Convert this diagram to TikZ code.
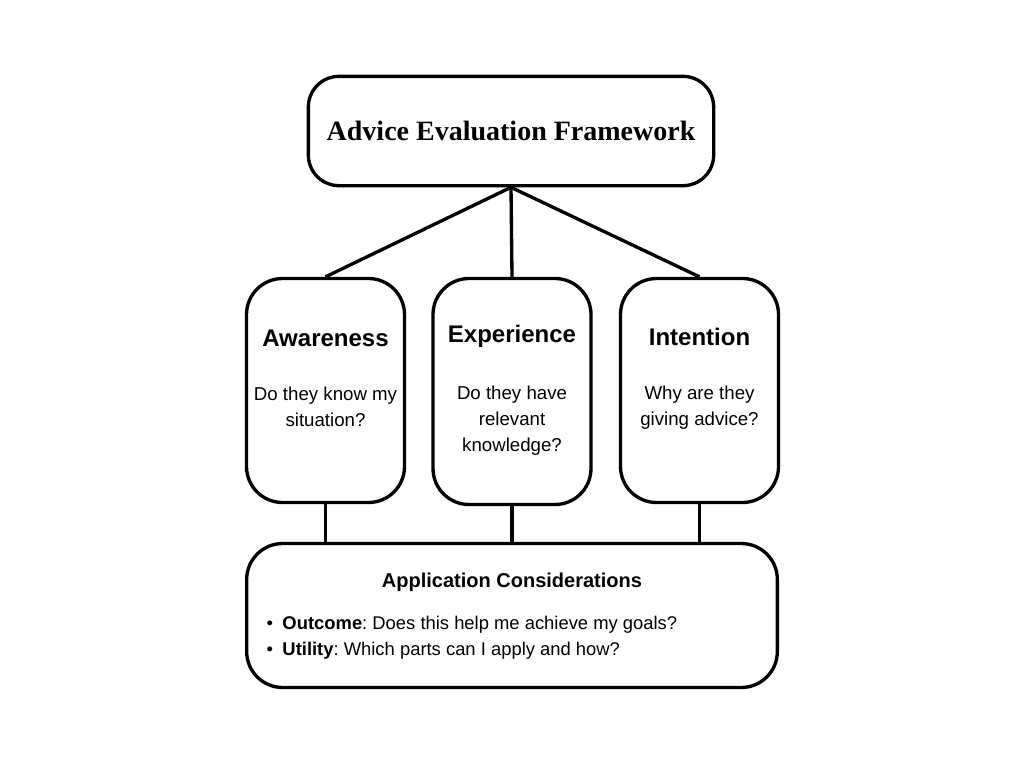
\documentclass[tikz,border=0pt]{standalone}
\usepackage{fontspec}
\setmainfont{Liberation Sans}
\newfontfamily\titlefont{Liberation Serif}
\usetikzlibrary{positioning}
\frenchspacing

\begin{document}
\begin{tikzpicture}[x=0.75pt,y=-0.75pt]

    \tikzset{
      frame/.style={
        draw,
        line width=2.5pt,
        inner sep=0pt,
      },
      card/.style={
        frame,
        rounded corners=27pt,
        minimum width=118.5pt,
        minimum height=168pt,
      },
      link/.style={line width=2.5pt},
      head/.style={font=\bfseries\fontsize{18}{22}\selectfont},
      body/.style={align=center, font=\fontsize{14}{19.5}\selectfont},
    }
    \useasboundingbox (0,0) rectangle (1024,768);
	\node[frame, rounded corners=23pt, minimum width=304pt, minimum height=82pt] (top) at (511,131) {};
	\node[font=\titlefont\bfseries\fontsize{21}{25}\selectfont] (toptext) at (511,131) {Advice Evaluation Framework};

	\node[card] (aware) at (325.5,390.5) {};
	\node[card, minimum height=169.5pt] (exper) at (512,391.5) {};
	\node[card] (inten) at (699.5,390.5) {};
	\node[frame, rounded corners=27pt, minimum width=398pt, minimum height=108pt] (apply) at (512,615.5) {};

	\node[head] (awarehead) at (325.5,338) {Awareness};
	\node[head] (experhead) at (512,336.5) {Experience};
	\node[head] (intenhead) at (699.5,336.5) {Intention};
	\node[body, anchor=north] (awarebody) at (325.5,382) {Do they know my\\situation?};
	\node[body, anchor=north] (experbody) at (512,381) {Do they have\\relevant\\knowledge?};
	\node[body, anchor=north] (intenbody) at (699.5,381) {Why are they\\giving advice?};

	\node[font=\bfseries\fontsize{15}{18}\selectfont] (applyhead) at (512,582) {Application Considerations};
	\node[align=left, anchor=west, font=\fontsize{13.8}{19.5}\selectfont] (applylist) at (262,638)
	  {\textbullet\hspace{7pt}\textbf{Outcome}: Does this help me achieve my goals?\\
	   \textbullet\hspace{7pt}\textbf{Utility}: Which parts can I apply and how?};

	\draw[link] (top.south) -- (aware.north);
	\draw[link] (top.south) -- (exper.north);
	\draw[link] (top.south) -- (inten.north);
	\draw[link] (aware.south) -- (aware.south |- apply.north);
	\draw[link] (exper.south) -- (exper.south |- apply.north);
	\draw[link] (inten.south) -- (inten.south |- apply.north);

\end{tikzpicture}
\end{document}
